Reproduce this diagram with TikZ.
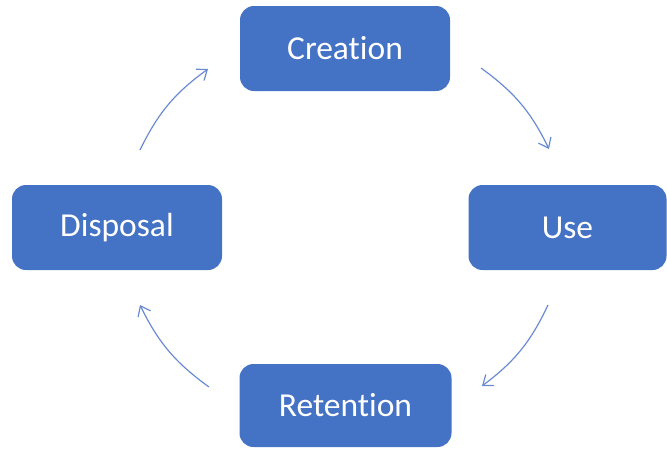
\documentclass[tikz,border=0pt]{standalone}
\usepackage{fontspec}
\setmainfont[Ligatures=NoCommon]{Carlito}
\usetikzlibrary{arrows.meta}
\definecolor{boxblue}{HTML}{4472C4}
\definecolor{arrowblue}{HTML}{6A8BD0}
\tikzset{
  stage/.style={fill=boxblue, rounded corners=14pt, text=white, font=\fontsize{33.5}{36}\selectfont, inner sep=0pt},
  flow/.style={draw=arrowblue, line width=1.2pt, -{Straight Barb[length=9pt,width=14pt,line width=1.2pt]}, bend left=14}
}
\begin{document}
\begin{tikzpicture}[x=1pt,y=-1pt]
\useasboundingbox (0,0) rectangle (667,448);
\node[stage, minimum width=210pt, minimum height=85pt] (creation) at (345,48.5) {Creation};
\node[stage, minimum width=198pt, minimum height=85pt] (use) at (567.5,227.5) {Use};
\node[stage, minimum width=210pt, minimum height=85pt] (disposal) at (117,227.5) {Disposal};
\node[stage, minimum width=212pt, minimum height=83pt] (retention) at (345.5,405.5) {Retention};
\coordinate (a1) at (481,68);
\coordinate (a2) at (549,149);
\coordinate (b1) at (548,305);
\coordinate (b2) at (482,386);
\coordinate (c1) at (209,387);
\coordinate (c2) at (140,305);
\coordinate (d1) at (140,150);
\coordinate (d2) at (208,69);
\draw[flow] (a1) to (a2);
\draw[flow] (b1) to (b2);
\draw[flow] (c1) to (c2);
\draw[flow] (d1) to (d2);
\end{tikzpicture}
\end{document}
